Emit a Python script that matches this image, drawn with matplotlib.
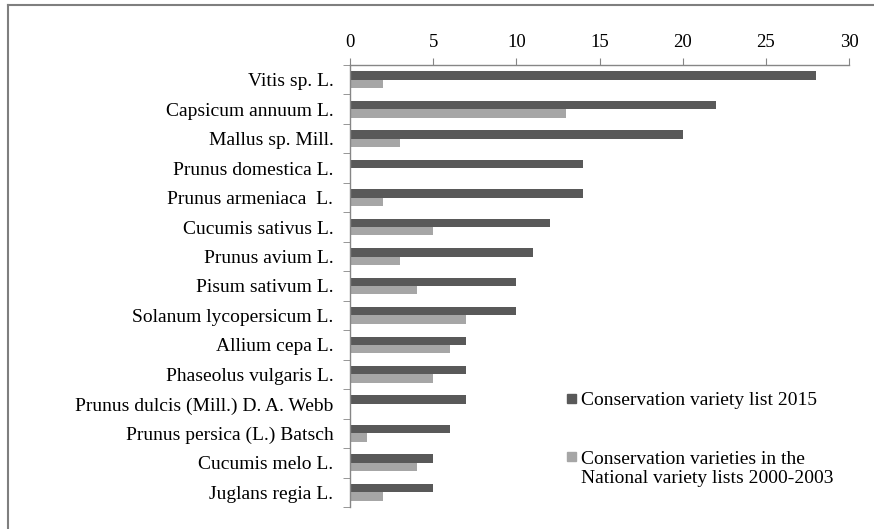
import matplotlib.pyplot as plt
from matplotlib.lines import Line2D
from matplotlib.patches import Rectangle
import numpy as np

plt.rcParams['font.family'] = ['Liberation Serif', 'DejaVu Serif']

species = [
    "Vitis sp. L.",
    "Capsicum annuum L.",
    "Mallus sp. Mill.",
    "Prunus domestica L.",
    "Prunus armeniaca  L.",
    "Cucumis sativus L.",
    "Prunus avium L.",
    "Pisum sativum L.",
    "Solanum lycopersicum L.",
    "Allium cepa L.",
    "Phaseolus vulgaris L.",
    "Prunus dulcis (Mill.) D. A. Webb",
    "Prunus persica (L.) Batsch",
    "Cucumis melo L.",
    "Juglans regia L.",
]
list_2015 = [28, 22, 20, 14, 14, 12, 11, 10, 10, 7, 7, 7, 6, 5, 5]
list_2000_2003 = [2, 13, 3, 0, 2, 5, 3, 4, 7, 6, 5, 0, 1, 4, 2]

label_2015 = "Conservation variety list 2015"
label_old = "Conservation varieties in the\nNational variety lists 2000-2003"

dark = "#595959"
light = "#a6a6a6"
axis_grey = "#868686"

W, H = 874, 529
fig = plt.figure(figsize=(W / 100, H / 100), dpi=100)
ax = fig.add_axes([350 / W, 1 - 507 / H, 499 / W, 442 / H])

y = np.arange(len(species))
h = 0.285
ax.barh(y - h / 2, list_2015, height=h, color=dark)
ax.barh(y + h / 2, list_2000_2003, height=h, color=light)

ax.set_xlim(0, 30)
ax.set_ylim(len(species) - 0.5, -0.5)
ax.set_xticks(range(0, 31, 5))
ax.xaxis.tick_top()
ax.tick_params(axis='x', direction='out', length=5, color=axis_grey,
               labelsize=13.5, pad=5)

ax.set_yticks(y)
ax.set_yticklabels(species, fontsize=14)
ax.set_yticks(np.arange(-0.5, len(species), 1), minor=True)
ax.tick_params(axis='y', which='major', length=0, pad=12)
ax.tick_params(axis='y', which='minor', length=5, color=axis_grey)

for side in ('right', 'bottom'):
    ax.spines[side].set_visible(False)
for side in ('left', 'top'):
    ax.spines[side].set_color(axis_grey)
    ax.spines[side].set_linewidth(1.0)

# legend: square swatch next to the first line of each label
# (swatch baseline, last-line text baseline) in pixels from the top
legend_rows = [(dark, label_2015, 405, 405), (light, label_old, 463, 483)]
for colour, text, sq_base, txt_base in legend_rows:
    fig.add_artist(Rectangle((567 / W, 1 - (sq_base - 2) / H), 9 / W, 9 / H,
                             transform=fig.transFigure, color=colour))
    fig.text(581 / W, 1 - txt_base / H, text, fontsize=14, va='baseline',
             ha='left', linespacing=1.12)

# outer frame around the chart area
fig.add_artist(Line2D([8 / W, 1], [1 - 5 / H, 1 - 5 / H],
                      transform=fig.transFigure, color="#7f7f7f", lw=1.5))
fig.add_artist(Line2D([8 / W, 8 / W], [0, 1 - 5 / H],
                      transform=fig.transFigure, color="#7f7f7f", lw=1.5))

fig.savefig("out.png", dpi=100)
